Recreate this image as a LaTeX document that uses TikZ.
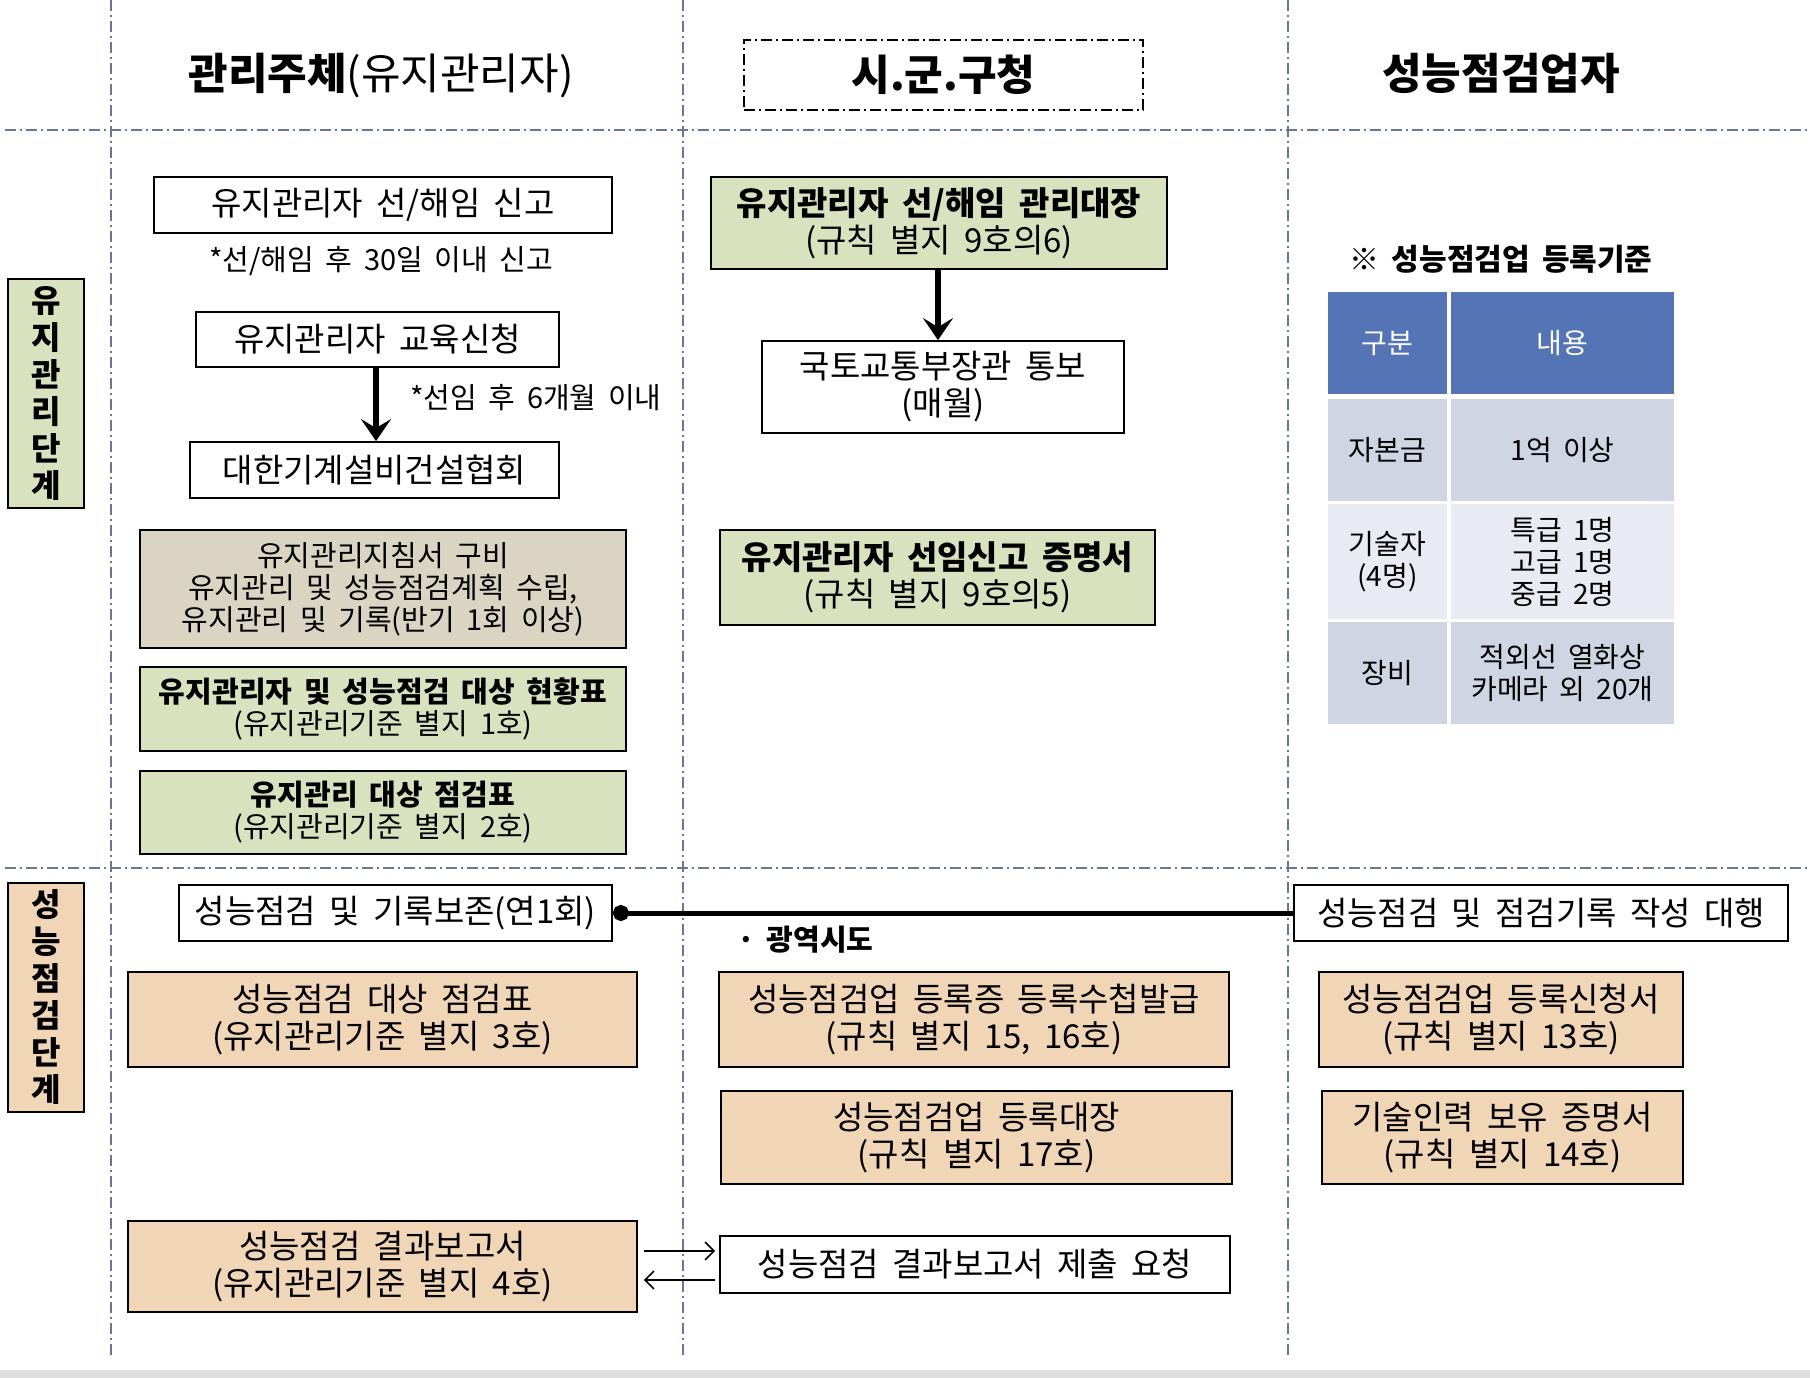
\documentclass[tikz,border=0pt]{standalone}
\usepackage{fontspec}
\setmainfont[WordSpace=1.8]{Noto Sans CJK KR}
\usetikzlibrary{arrows.meta}
\definecolor{grn}{RGB}{216,226,190}
\definecolor{gry}{RGB}{218,213,194}
\definecolor{tan}{RGB}{240,214,183}
\definecolor{thead}{RGB}{85,116,181}
\definecolor{tdark}{RGB}{207,213,227}
\definecolor{tlight}{RGB}{232,235,242}
\definecolor{guide}{RGB}{105,118,150}
\newcommand\fsz[2]{\fontsize{#1}{#2}\selectfont}
\begin{document}
\begin{tikzpicture}[x=1pt,y=-1pt,
  box/.style={draw=black, line width=1.8pt, align=center, inner sep=0pt, font=\fsz{33}{37}},
  smallbox/.style={box, font=\fsz{29}{32}},
  note/.style={inner sep=0pt, font=\fsz{29}{32}},
  header/.style={inner sep=0pt, font=\fsz{43}{48}},
  stage/.style={draw=black, line width=1.8pt, align=center, inner sep=0pt, font=\fsz{32}{37}\bfseries, minimum width=76pt, minimum height=229pt},
  guideline/.style={draw=guide, line width=1.4pt, dash pattern=on 11pt off 4pt on 2pt off 4pt},
  tcell/.style={inner sep=0pt, align=center, font=\fsz{28}{32}},
  bigarrow/.style={line width=6pt, -{Stealth[length=22pt,width=30pt,inset=9pt]}},
  thinarrow/.style={line width=1.5pt, -{Straight Barb[length=9pt,width=18pt]}}
]
\useasboundingbox (0,0) rectangle (1810,1378);
\fill[white] (0,0) rectangle (1810,1378);
\fill[gray!25] (0,1370) rectangle (1810,1378);

% guide lines
\draw[guideline] (111,0) -- (111,1356);
\draw[guideline] (683,0) -- (683,1356);
\draw[guideline] (1288,0) -- (1288,1356);
\draw[guideline] (5,130) -- (1810,130);
\draw[guideline] (5,868) -- (1810,868);

% headers
\node[header] (h1) at (381,76) {{\bfseries 관리주체}(유지관리자)};
\node[header, draw=black, line width=1.8pt, dash pattern=on 11pt off 4pt on 2pt off 4pt, minimum width=399pt, minimum height=70pt, font=\fsz{42}{46}\bfseries] (h2) at (943.5,75) {시.군.구청};
\node[header, font=\fsz{43}{48}\bfseries] (h3) at (1501,73) {성능점검업자};

% stage labels
\node[stage, fill=grn] (s1) at (46,393.5) {유\\지\\관\\리\\단\\계};
\node[stage, fill=tan] (s2) at (46,997.5) {성\\능\\점\\검\\단\\계};

% column 1 - maintenance
\node[box, minimum width=458pt, minimum height=56pt] (b1) at (383,205) {유지관리자 선/해임 신고};
\node[note] (n1) at (381,261) {*선/해임 후 30일 이내 신고};
\node[box, minimum width=363pt, minimum height=55pt] (b2) at (377.5,339.5) {유지관리자 교육신청};
\node[box, minimum width=369pt, minimum height=56pt] (b3) at (374.5,470) {대한기계설비건설협회};
\node[note, anchor=west] (n2) at (410,398) {*선임 후 6개월 이내};
\node[smallbox, fill=gry, minimum width=486pt, minimum height=118pt] (b4) at (383,589) {유지관리지침서 구비\\유지관리 및 성능점검계획 수립,\\유지관리 및 기록(반기 1회 이상)};
\node[smallbox, fill=grn, minimum width=486pt, minimum height=84pt] (b5) at (383,709) {\textbf{유지관리자 및 성능점검 대상 현황표}\\(유지관리기준 별지 1호)};
\node[smallbox, fill=grn, minimum width=486pt, minimum height=83pt] (b6) at (383,812.5) {\textbf{유지관리 대상 점검표}\\(유지관리기준 별지 2호)};
\draw[bigarrow] (b2.south -| 376,0) -- (b3.north -| 376,0);

% column 2 - maintenance
\node[box, fill=grn, minimum width=456pt, minimum height=92pt] (c1) at (939,223) {\textbf{유지관리자 선/해임 관리대장}\\(규칙 별지 9호의6)};
\node[box, minimum width=362pt, minimum height=92pt] (c2) at (943,387) {국토교통부장관 통보\\(매월)};
\node[box, fill=grn, minimum width=435pt, minimum height=95pt] (c3) at (937.5,577.5) {\textbf{유지관리자 선임신고 증명서}\\(규칙 별지 9호의5)};
\draw[bigarrow] (c1.south -| 938,0) -- (c2.north -| 938,0);

% column 3 - registration criteria table
\node[inner sep=0pt, font=\fsz{30}{34}\bfseries] (tt) at (1501,259) {※ 성능점검업 등록기준};
\node[tcell, fill=thead, text=white, minimum width=119pt, minimum height=102pt] (t11) at (1387.5,343) {구분};
\node[tcell, fill=thead, text=white, minimum width=223pt, minimum height=102pt] (t12) at (1562.5,343) {내용};
\node[tcell, fill=tdark, minimum width=119pt, minimum height=102pt] (t21) at (1387.5,450) {자본금};
\node[tcell, fill=tdark, minimum width=223pt, minimum height=102pt] (t22) at (1562.5,450) {1억 이상};
\node[tcell, fill=tlight, minimum width=119pt, minimum height=115pt] (t31) at (1387.5,561.5) {기술자\\(4명)};
\node[tcell, fill=tlight, minimum width=223pt, minimum height=115pt] (t32) at (1562.5,561.5) {특급 1명\\고급 1명\\중급 2명};
\node[tcell, fill=tdark, minimum width=119pt, minimum height=102pt] (t41) at (1387.5,673) {장비};
\node[tcell, fill=tdark, minimum width=223pt, minimum height=102pt] (t42) at (1562.5,673) {적외선 열화상\\카메라 외 20개};

% performance inspection stage
\node[box, minimum width=433pt, minimum height=56pt] (d1) at (395.5,913) {성능점검 및 기록보존(연1회)};
\node[box, minimum width=494pt, minimum height=56pt] (d2) at (1541,913) {성능점검 및 점검기록 작성 대행};
\draw[line width=5pt, {Circle[length=16pt]}-] (d1.east) -- (d2.west);
\node[inner sep=0pt, anchor=west, font=\fsz{29}{32}\bfseries] (lb) at (737,940) {· 광역시도};

\node[box, fill=tan, minimum width=509pt, minimum height=95pt] (e1) at (382.5,1019.5) {성능점검 대상 점검표\\(유지관리기준 별지 3호)};
\node[box, fill=tan, minimum width=510pt, minimum height=95pt] (e2) at (974,1019.5) {성능점검업 등록증 등록수첩발급\\(규칙 별지 15, 16호)};
\node[box, fill=tan, minimum width=511pt, minimum height=93pt] (e3) at (976.5,1137.5) {성능점검업 등록대장\\(규칙 별지 17호)};
\node[box, fill=tan, minimum width=364pt, minimum height=95pt] (e4) at (1501,1019.5) {성능점검업 등록신청서\\(규칙 별지 13호)};
\node[box, fill=tan, minimum width=361pt, minimum height=93pt] (e5) at (1502.5,1137.5) {기술인력 보유 증명서\\(규칙 별지 14호)};
\node[box, fill=tan, minimum width=509pt, minimum height=91pt] (e6) at (382.5,1266.5) {성능점검 결과보고서\\(유지관리기준 별지 4호)};
\node[box, minimum width=510pt, minimum height=57pt] (e7) at (975,1264.5) {성능점검 결과보고서 제출 요청};
\draw[thinarrow] ([xshift=6pt,yshift=15.5pt]e6.east) -- ([xshift=-4pt,yshift=15.5pt]e6.east -| e7.west);
\draw[thinarrow] ([xshift=-4pt,yshift=-13.5pt]e6.east -| e7.west) -- ([xshift=6pt,yshift=-13.5pt]e6.east);
\end{tikzpicture}
\end{document}
